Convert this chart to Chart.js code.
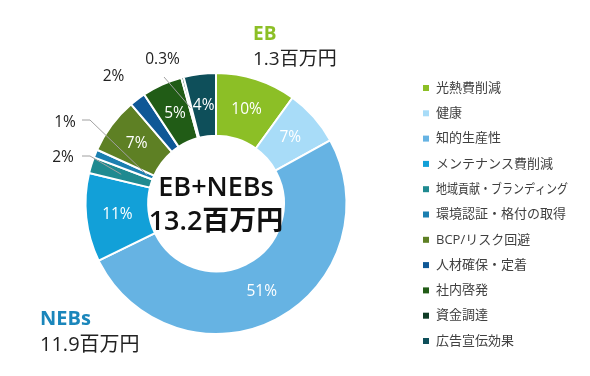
<!DOCTYPE html>
<html>
<head>
<meta charset="utf-8">
<script src="https://cdn.jsdelivr.net/npm/chart.js@4.4.1/dist/chart.umd.min.js"></script>
<style>
  html, body { margin: 0; padding: 0; background: #fff; }
  #wrap { width: 590px; height: 376px; }
</style>
</head>
<body>
<div id="wrap"><canvas id="chart" width="590" height="376"></canvas></div>
<script>
// データ
const categories = ['光熱費削減', '健康', '知的生産性', 'メンテナンス費削減', '地域貢献・ブランディング',
                    '環境認証・格付の取得', 'BCP/リスク回避', '人材確保・定着', '社内啓発', '資金調達', '広告宣伝効果'];
const shares = [10, 7, 51, 11, 2, 1, 7, 2, 5, 0.3, 4];
const shareLabels = ['10%', '7%', '51%', '11%', '2%', '1%', '7%', '2%', '5%', '0.3%', '4%'];
const colors = ['#8cbf26', '#a8dcf8', '#66b3e3', '#12a0d8', '#1f8a90', '#1b7fb0',
                '#5e8024', '#0f5896', '#215c16', '#0f3b25', '#0e4f5a'];

const totalTitle = ['EB+NEBs', '13.2百万円'];
const ebTitle = ['EB', '1.3百万円'];
const nebsTitle = ['NEBs', '11.9百万円'];

const FONT = "'Open Sans', 'Noto Sans CJK JP', sans-serif";

// 外側に出すラベル (中心からのずれ, 引き出し線)
const outside = {
    4: { dx: -153, dy: -46, line: [[-134, -47.5], [-126, -47.5]], r: 0.5 },
    5: { dx: -151, dy: -81, line: [[-134, -83.5], [-126, -83.5]], r: 0.11 },
    7: { dx: -102.5, dy: -126.5 },
    9: { dx: -53.5, dy: -143.5, line: [[-52, -126.5]], r: 0.5 }
};

const labelPlugin = {
    id: 'sliceLabels',
    afterDatasetsDraw(chart) {
        const ctx = chart.ctx;
        const meta = chart.getDatasetMeta(0);
        const cx = meta.data[0].x;
        const cy = meta.data[0].y;

        ctx.save();
        ctx.textAlign = 'center';
        ctx.textBaseline = 'middle';
        ctx.font = '15.5px ' + FONT;

        meta.data.forEach((arc, i) => {
            const o = outside[i];
            if (!o) {
                const p = arc.tooltipPosition();
                ctx.fillStyle = '#ffffff';
                ctx.fillText(shareLabels[i], p.x, p.y);
                return;
            }
            if (o.line) {
                const a = (arc.startAngle + arc.endAngle) / 2;
                const r = arc.innerRadius + o.r * (arc.outerRadius - arc.innerRadius);
                ctx.strokeStyle = '#a0a0a0';
                ctx.lineWidth = 1;
                ctx.beginPath();
                o.line.forEach((pt, k) => {
                    if (k === 0) ctx.moveTo(cx + pt[0], cy + pt[1]);
                    else ctx.lineTo(cx + pt[0], cy + pt[1]);
                });
                ctx.lineTo(cx + Math.cos(a) * r, cy + Math.sin(a) * r);
                ctx.stroke();
            }
            ctx.fillStyle = '#222222';
            ctx.fillText(shareLabels[i], cx + o.dx, cy + o.dy);
        });
        ctx.restore();
    },
    afterDraw(chart) {
        const ctx = chart.ctx;
        const meta = chart.getDatasetMeta(0);
        const cx = meta.data[0].x;
        const cy = meta.data[0].y;

        ctx.save();
        // 中央
        ctx.textAlign = 'center';
        ctx.textBaseline = 'alphabetic';
        ctx.fillStyle = '#111111';
        ctx.font = '600 27px ' + FONT;
        ctx.fillText(totalTitle[0], cx, cy - 8);
        ctx.fillText(totalTitle[1], cx, cy + 26);

        // EB / NEBs
        ctx.textAlign = 'left';
        ctx.font = 'bold 19px ' + FONT;
        ctx.fillStyle = '#8cbf26';
        ctx.fillText(ebTitle[0], 253, 40);
        ctx.font = '19px ' + FONT;
        ctx.fillStyle = '#222222';
        ctx.fillText(ebTitle[1], 253, 65);

        ctx.font = 'bold 20px ' + FONT;
        ctx.fillStyle = '#1a86bb';
        ctx.fillText(nebsTitle[0], 40, 325);
        ctx.font = '20px ' + FONT;
        ctx.fillStyle = '#222222';
        ctx.fillText(nebsTitle[1], 40, 351);

        // 凡例
        ctx.textBaseline = 'middle';
        ctx.font = '13px ' + FONT;
        categories.forEach((c, i) => {
            const y = 88 + i * 25.3;
            ctx.fillStyle = colors[i];
            ctx.fillRect(423, y - 3, 6, 6);
            ctx.fillStyle = '#404040';
            ctx.fillText(c, 436, y, 132);
        });
        ctx.restore();
    }
};

new Chart(document.getElementById('chart'), {
    type: 'doughnut',
    data: {
        labels: categories,
        datasets: [{
            data: shares,
            backgroundColor: colors,
            borderColor: '#ffffff',
            borderWidth: 2
        }]
    },
    options: {
        responsive: false,
        animation: false,
        cutout: '52%',
        layout: { padding: { top: 72, bottom: 41, left: 0, right: 158 } },
        plugins: {
            legend: { display: false },
            tooltip: { enabled: false }
        }
    },
    plugins: [labelPlugin]
});
</script>
</body>
</html>
